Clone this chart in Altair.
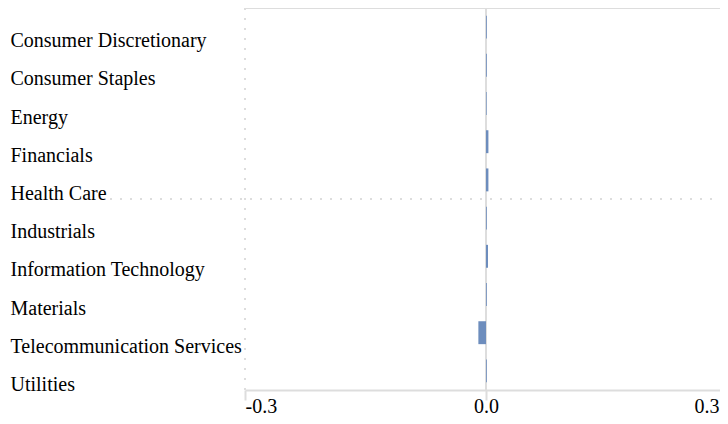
import altair as alt
import pandas as pd

categories = [
    "Consumer Discretionary", "Consumer Staples", "Energy", "Financials",
    "Health Care", "Industrials", "Information Technology", "Materials",
    "Telecommunication Services", "Utilities",
]
values = [0.001, 0.001, 0.0008, 0.003, 0.003, 0.001, 0.0025, 0.001, -0.0095, 0.001]
x_ticks = [-0.3, 0.0, 0.3]

df = pd.DataFrame({"sector": categories, "value": values})

W, H = 482, 382
GRID = "#dddddd"
FONT = "Liberation Serif"

xscale = alt.Scale(domain=[-0.3, 0.3], nice=False, zero=False)

bars = alt.Chart(df).mark_bar(color="#6d8dbd").encode(
    x=alt.X("value:Q", scale=xscale, title=None,
            axis=alt.Axis(values=x_ticks, grid=False, labelFlush=True,
                          labelExpr="datum.value < 0 ? '-' + format(-datum.value, '.1f') : format(datum.value, '.1f')",
                          labelOffset={"condition": {"test": "datum.value > 0.1", "value": -8}, "value": 0},
                          domainColor=GRID, domainWidth=2,
                          tickColor=GRID, tickWidth=2, tickSize=10,
                          labelFont=FONT, labelFontSize=20, labelColor="#000000",
                          labelPadding=-4)),
    y=alt.Y("sector:N", sort=categories, title=None,
            scale=alt.Scale(paddingInner=0.4, paddingOuter=0.2),
            axis=alt.Axis(ticks=False, tickSize=0, domain=False, grid=False,
                          labelAlign="left", labelPadding=235,
                          labelBaseline="alphabetic", labelOffset=20,
                          labelFont=FONT, labelFontSize=20, labelColor="#000000",
                          labelLimit=400)),
)

zero_rule = alt.Chart(df).mark_rule(color=GRID, strokeWidth=2).encode(
    x=alt.datum(0.0, scale=xscale), y=alt.value(0), y2=alt.value(H)
)
left_dotted = alt.Chart(df).mark_rule(color=GRID, strokeWidth=1.5, strokeDash=[2, 8]).encode(
    x=alt.datum(-0.3, scale=xscale), y=alt.value(0), y2=alt.value(H)
)
mid_dotted = alt.Chart(df).mark_rule(color=GRID, strokeWidth=1.5, strokeDash=[2, 8]).encode(
    x=alt.value(-135), x2=alt.value(W), y=alt.value(H / 2)
)
top_line = alt.Chart(df).mark_rule(color=GRID, strokeWidth=2).encode(
    x=alt.value(0), x2=alt.value(W), y=alt.value(0)
)

chart = alt.layer(left_dotted, mid_dotted, top_line, zero_rule, bars).properties(
    width=W, height=H,
    autosize=alt.AutoSizeParams(type="none"),
    padding={"left": 237, "top": 0, "right": -7, "bottom": 26},
).configure_view(stroke=None)

chart.save("out.html", embed_options={"renderer": "svg", "actions": False})
